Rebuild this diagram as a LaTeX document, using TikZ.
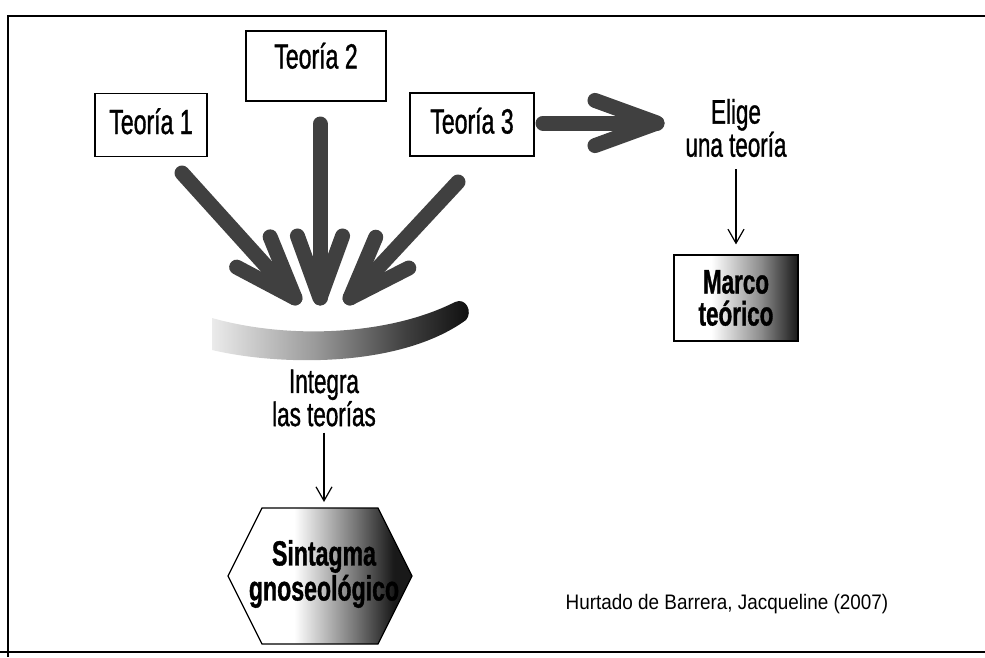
\documentclass[tikz,border=0pt]{standalone}
\usepackage{fontspec}
\setmainfont{Liberation Sans}
\newfontfamily\narrowsf{Liberation Sans}[FakeStretch=0.66,FakeBold=1]
\newfontfamily\citesf{Liberation Sans}[FakeStretch=0.9]
\usetikzlibrary{arrows.meta,calc}

\pgfdeclarehorizontalshading{bandshade}{100bp}{color(0bp)=(black!8); color(25bp)=(black!8); color(45bp)=(black!40); color(62bp)=(black!75); color(75bp)=(black!95); color(100bp)=(black!95)}
\pgfdeclarehorizontalshading{hexshade}{100bp}{color(0bp)=(white); color(25bp)=(white); color(43bp)=(white); color(60bp)=(black!55); color(70bp)=(black!90); color(100bp)=(black!90)}
\pgfdeclarehorizontalshading{boxshade}{100bp}{color(0bp)=(white); color(25bp)=(white); color(40bp)=(white); color(60bp)=(black!45); color(75bp)=(black!90); color(100bp)=(black!90)}

\tikzstyle{theory}=[draw=black,line width=1.5pt,fill=white,inner sep=0pt,
                    text height=25pt,text depth=7pt,
                    font=\narrowsf\fontsize{35}{36}\selectfont]
\tikzstyle{notetext}=[align=center,inner sep=0pt,
                      font=\narrowsf\fontsize{34}{31}\selectfont]
\tikzstyle{innertext}=[align=center,inner sep=0pt,
                       font=\narrowsf\bfseries\fontsize{35}{35}\selectfont]
\tikzstyle{shadebox}=[draw=black,line width=1.2pt,shade,shading=boxshade,
                      inner sep=0pt,align=center,
                      font=\narrowsf\bfseries\fontsize{34}{32}\selectfont]
\tikzstyle{fatarrow}=[draw=black!75,line width=15pt,line cap=round,line join=round]
\tikzstyle{thinarrow}=[line width=1.2pt,
                       -{Straight Barb[length=14pt,width=16pt]}]

\begin{document}
\begin{tikzpicture}[x=1pt,y=-1pt]
    \newcommand{\barbarrow}[2]{
      \draw[fatarrow] (#1) -- (#2);
      \draw[fatarrow] ($(#2)!66pt!20:(#1)$) -- (#2) -- ($(#2)!66pt!-20:(#1)$);}
    \useasboundingbox (0,0) rectangle (985,657);
    % frame
    \draw[line width=2pt] (985,16) -- (8,16) -- (8,657);
    \draw[line width=2pt] (0,652) -- (985,652);
    % theories
    \node (t1) at (151,125) [theory,minimum width=112pt,minimum height=63pt]{Teoría 1};
    \node (t2) at (316,66) [theory,minimum width=140pt,minimum height=70pt,
                            text depth=20pt]{Teoría 2};
    \node (t3) at (472,124.5) [theory,minimum width=124pt,minimum height=63pt]{Teoría 3};
    % converging arrows
    \coordinate (a1s) at (182,173);
    \coordinate (a1t) at (295,298);
    \coordinate (a2s) at (320,124);
    \coordinate (a2t) at (320,298);
    \coordinate (a3s) at (458,182);
    \coordinate (a3t) at (350,298);
    \barbarrow{a1s}{a1t}
    \barbarrow{a2s}{a2t}
    \barbarrow{a3s}{a3t}
    % band
    \path[shade,shading=bandshade] (212,318)
        .. controls (290,340) and (390,335) .. (455,302)
        .. controls (466,297) and (473,312) .. (466,320)
        .. controls (400,368) and (280,366) .. (212,350) -- cycle;
    \node (integ) at (324,398) [notetext]{Integra\\las teorías};
    % hexagon
    \coordinate (hxtop) at (324,508);
    \draw[line width=1.2pt,shade,shading=hexshade]
        (228,576) -- (262,508) -- (378,508) -- (412,576)
        -- (378,644) -- (262,644) -- cycle;
    \node (sintag) at (324,574) [innertext]{Sintagma\\gnoseológico};
    \draw[thinarrow,shorten <=6pt,shorten >=6pt] (integ.south) -- (hxtop);
    % chosen theory
    \coordinate (fas) at (543,123);
    \coordinate (fat) at (657,123);
    \barbarrow{fas}{fat}
    \node (elige) at (736,128) [notetext]{Elige\\una teoría};
    \node (marco) at (736,298) [shadebox,minimum width=124pt,
                                minimum height=86pt]{Marco\\teórico};
    \draw[thinarrow,shorten <=12pt,shorten >=10pt] (elige.south) -- (marco.north);
    \node (cite) at (727,604) [font=\citesf\fontsize{21}{22}\selectfont]
        {Hurtado de Barrera, Jacqueline (2007)};
\end{tikzpicture}
\end{document}
